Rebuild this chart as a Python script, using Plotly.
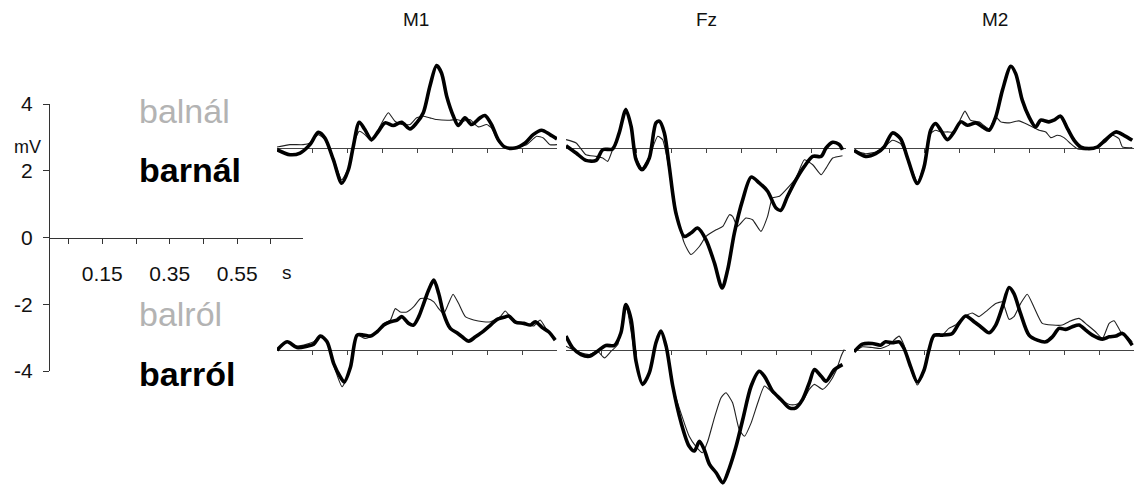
import plotly.graph_objects as go

W, H = 1134, 487

# ---- time axis labels of the scale bar (seconds) ----
scale_tick_s = [0.05, 0.15, 0.25, 0.35, 0.45, 0.55, 0.65]
scale_tick_text = ["", "0.15", "", "0.35", "", "0.55", ""]
scale_mv_ticks = [-4, -2, 0, 2, 4]
scale_mv_text = ["-4", "-2", "0", "2", "4"]

# baseline tick marks of each waveform panel (ms)
panel_tick_ms = [100, 200, 300, 400, 500, 600, 700]

electrodes = ["M1", "Fz", "M2"]

# ---------------- upper row: balnál (thin) vs barnál (thick) ----------------
m1_nal_t_bar = [0, 37, 66, 94, 118, 137, 161, 185, 204, 218, 235, 251, 270, 290, 309, 332, 356, 380, 399, 418,
                437, 456, 470, 485, 504, 518, 537, 556, 580, 594, 613, 632, 651, 680, 709, 732, 756, 780, 800]
m1_nal_bar = [-0.05, -0.2, -0.15, 0.1, 0.47, 0.3, -0.35, -1.05, -0.65, 0.05, 0.77, 0.55, 0.25, 0.5, 0.75, 0.67,
              0.77, 0.57, 0.75, 1.05, 1.85, 2.46, 2.24, 1.54, 0.95, 0.67, 0.9, 0.7, 0.9, 0.97, 0.7, 0.25, 0.03,
              0.0, 0.15, 0.4, 0.53, 0.4, 0.27]
m1_nal_t_bal = [0, 37, 75, 94, 118, 137, 161, 185, 204, 218, 235, 251, 270, 294, 318, 337, 356, 380, 399, 418,
                437, 456, 494, 513, 532, 551, 575, 599, 613, 632, 651, 680, 713, 742, 761, 780, 800]
m1_nal_bal = [0.03, 0.1, 0.1, 0.15, 0.4, 0.25, -0.3, -0.95, -0.6, 0.1, 0.5, 0.4, 0.2, 0.65, 1.05, 0.8, 0.7, 0.7,
              0.9, 0.95, 0.9, 0.85, 0.83, 0.85, 0.8, 0.85, 0.63, 0.7, 0.6, 0.2, 0.0, 0.0, 0.1, 0.35, 0.3, 0.1, 0.1]

fz_nal_t_bar = [0, 29, 57, 86, 105, 133, 152, 171, 186, 200, 217, 238, 257, 267, 281, 295, 314, 338, 357, 376,
                400, 424, 446, 462, 481, 505, 529, 552, 576, 600, 614, 633, 657, 681, 705, 729, 743, 762, 781, 790]
fz_nal_bar = [0.07, -0.15, -0.37, -0.37, -0.05, -0.03, 0.45, 1.14, 0.65, -0.35, -0.65, -0.3, 0.75, 0.8, 0.45,
              -0.55, -1.94, -2.64, -2.54, -2.39, -2.74, -3.43, -4.18, -3.63, -2.54, -1.54, -0.87, -1.04, -1.29,
              -1.79, -1.86, -1.44, -0.95, -0.55, -0.25, -0.25, 0.0, 0.17, 0.1, -0.05]
fz_nal_t_bal = [0, 29, 57, 86, 105, 119, 133, 152, 171, 186, 200, 217, 238, 262, 276, 295, 314, 338, 357, 381,
                400, 429, 448, 467, 476, 490, 514, 533, 557, 576, 590, 610, 638, 657, 681, 705, 729, 743, 762, 790]
fz_nal_bal = [0.25, 0.15, -0.2, -0.25, -0.3, -0.4, -0.05, 0.45, 1.19, 0.65, -0.25, -0.6, -0.25, 0.35, 0.25, -0.65,
              -1.84, -2.84, -3.18, -2.94, -2.64, -2.44, -2.34, -1.99, -2.04, -2.34, -2.09, -2.14, -2.49, -2.04,
              -1.49, -1.44, -1.14, -0.9, -0.35, -0.5, -0.8, -0.6, -0.3, -0.23]

m2_nal_t_bar = [0, 33, 62, 86, 110, 133, 152, 181, 200, 219, 233, 248, 267, 286, 305, 324, 348, 367, 386, 405,
                424, 448, 462, 481, 500, 519, 533, 557, 571, 590, 610, 629, 648, 671, 695, 719, 748, 771, 795]
m2_nal_bar = [-0.07, -0.25, -0.17, 0.03, 0.45, 0.28, -0.27, -1.06, -0.57, 0.53, 0.73, 0.53, 0.25, 0.48, 0.78,
              0.68, 0.75, 0.63, 0.53, 0.93, 1.72, 2.44, 2.22, 1.42, 0.93, 0.63, 0.83, 0.78, 0.83, 0.95, 0.58, 0.23,
              0.03, -0.02, 0.03, 0.25, 0.48, 0.38, 0.23]
m2_nal_t_bal = [0, 33, 62, 86, 110, 133, 152, 181, 200, 219, 233, 248, 267, 286, 305, 317, 333, 357, 386, 405,
                419, 443, 471, 500, 529, 548, 562, 581, 600, 619, 638, 662, 690, 719, 738, 757, 767, 795]
m2_nal_bal = [-0.07, -0.17, -0.12, 0.03, 0.23, 0.13, -0.27, -1.01, -0.52, 0.43, 0.53, 0.48, 0.48, 0.48, 0.88, 1.1,
              0.83, 0.78, 0.58, 0.93, 0.78, 0.75, 0.81, 0.68, 0.53, 0.48, 0.31, 0.38, 0.31, 0.13, -0.02, -0.05,
              0.03, 0.18, 0.38, 0.28, 0.03, 0.01]

# ---------------- lower row: balról (thin) vs barról (thick) ----------------
m1_rol_t_bar = [0, 29, 57, 86, 105, 124, 143, 162, 181, 192, 210, 229, 248, 267, 286, 305, 324, 343, 357, 376,
                390, 405, 419, 433, 448, 462, 476, 495, 514, 529, 548, 567, 590, 610, 629, 648, 662, 681, 705, 724,
                738, 757, 776, 795]
m1_rol_bar = [-0.02, 0.23, 0.06, 0.1, 0.16, 0.4, 0.23, -0.42, -0.82, -0.97, -0.52, 0.43, 0.43, 0.4, 0.53, 0.73,
              0.83, 0.88, 0.98, 0.78, 0.73, 0.98, 1.37, 1.77, 2.07, 1.67, 1.07, 0.63, 0.5, 0.38, 0.25, 0.38, 0.55,
              0.73, 0.9, 0.96, 1.0, 0.82, 0.78, 0.73, 0.83, 0.66, 0.53, 0.28]
m1_rol_t_bal = [0, 29, 57, 86, 105, 124, 143, 162, 186, 205, 229, 252, 276, 305, 324, 338, 352, 371, 390, 410,
                429, 448, 462, 476, 490, 503, 519, 538, 562, 590, 610, 638, 652, 667, 690, 714, 733, 752, 771, 795]
m1_rol_bal = [-0.02, 0.23, 0.1, 0.16, 0.23, 0.4, 0.2, -0.47, -1.11, -0.72, 0.43, 0.33, 0.43, 0.78, 0.88, 1.22,
              1.12, 1.12, 1.27, 1.52, 1.52, 1.42, 1.22, 1.07, 1.37, 1.65, 1.37, 0.98, 0.88, 0.83, 0.83, 0.98, 1.15,
              0.98, 0.8, 0.78, 0.7, 0.88, 0.58, 0.33]

fz_rol_t_bar = [0, 19, 43, 67, 90, 114, 138, 157, 171, 186, 200, 219, 238, 257, 271, 286, 305, 329, 352, 367,
                381, 395, 410, 429, 448, 467, 486, 505, 529, 552, 567, 590, 614, 638, 657, 676, 695, 710, 729, 743,
                767, 790]
fz_rol_bar = [0.4, 0.05, -0.15, -0.2, -0.05, 0.12, 0.12, 0.5, 1.34, 0.9, -0.35, -1.04, -0.7, 0.2, 0.55, 0.1,
              -1.09, -2.19, -2.89, -3.03, -2.74, -2.99, -3.43, -3.68, -3.98, -3.53, -2.89, -2.09, -1.09, -0.65,
              -0.8, -1.24, -1.49, -1.74, -1.74, -1.49, -1.0, -0.6, -0.8, -0.95, -0.6, -0.45]
fz_rol_t_bal = [0, 19, 43, 67, 90, 110, 129, 148, 171, 200, 219, 238, 257, 271, 286, 305, 333, 352, 371, 390,
                405, 424, 443, 457, 476, 495, 510, 529, 548, 567, 590, 614, 638, 657, 676, 695, 710, 733, 752, 771,
                786, 795]
fz_rol_bal = [0.1, 0.0, -0.1, -0.15, -0.05, -0.25, -0.05, 0.15, 1.34, -0.35, -1.04, -0.7, 0.2, 0.55, 0.1, -1.09,
              -2.04, -2.59, -2.89, -3.08, -2.74, -2.04, -1.44, -1.29, -1.59, -2.39, -2.59, -2.19, -1.59, -1.09,
              -1.29, -1.49, -1.64, -1.64, -1.54, -1.19, -1.04, -1.19, -1.0, -0.65, -0.2, 0.0]

m2_rol_t_bar = [0, 24, 52, 76, 90, 110, 129, 143, 162, 181, 200, 214, 229, 252, 281, 300, 319, 343, 362, 386,
                405, 424, 443, 457, 476, 500, 524, 548, 567, 586, 605, 624, 643, 662, 681, 710, 729, 748, 767, 795]
m2_rol_bar = [-0.07, 0.16, 0.18, 0.13, 0.23, 0.2, 0.23, 0.03, -0.52, -0.97, -0.62, -0.02, 0.43, 0.43, 0.48, 0.78,
              1.0, 0.83, 0.68, 0.5, 0.73, 1.27, 1.85, 1.67, 1.07, 0.43, 0.28, 0.23, 0.38, 0.63, 0.6, 0.68, 0.73,
              0.58, 0.43, 0.31, 0.38, 0.4, 0.48, 0.13]
m2_rol_t_bal = [0, 24, 52, 76, 100, 114, 129, 143, 162, 181, 200, 214, 229, 252, 271, 290, 314, 338, 357, 381,
                405, 424, 443, 457, 476, 495, 514, 538, 567, 595, 614, 643, 667, 690, 710, 729, 743, 762, 781, 795]
m2_rol_bal = [-0.07, 0.08, 0.06, 0.03, 0.13, 0.28, 0.4, 0.13, -0.57, -1.06, -0.62, -0.02, 0.38, 0.43, 0.63, 0.73,
              0.98, 1.09, 0.98, 1.17, 1.37, 1.42, 0.9, 0.98, 1.37, 1.65, 1.27, 0.78, 0.73, 0.73, 0.83, 0.93, 0.73,
              0.53, 0.33, 0.78, 0.86, 0.53, 0.38, 0.23]

# ---------------- geometry (pixels) ----------------
PX_PER_MV = 33.5
col_left_px = [277, 566, 854]
col_width_px = 280
row_base_px = [148, 349.5]
FONT = "Liberation Sans, Arial, sans-serif"
GRAY_LABEL = "#b3b3b3"


def px_x(px):
    return px / W


def px_y(py):
    return 1 - py / H


rows = [
    [(m1_nal_t_bal, m1_nal_bal, m1_nal_t_bar, m1_nal_bar),
     (fz_nal_t_bal, fz_nal_bal, fz_nal_t_bar, fz_nal_bar),
     (m2_nal_t_bal, m2_nal_bal, m2_nal_t_bar, m2_nal_bar)],
    [(m1_rol_t_bal, m1_rol_bal, m1_rol_t_bar, m1_rol_bar),
     (fz_rol_t_bal, fz_rol_bal, fz_rol_t_bar, fz_rol_bar),
     (m2_rol_t_bal, m2_rol_bal, m2_rol_t_bar, m2_rol_bar)],
]

fig = go.Figure()
layout = dict(
    width=W, height=H,
    margin=dict(l=0, r=0, t=0, b=0, pad=0, autoexpand=False),
    paper_bgcolor="white", plot_bgcolor="rgba(0,0,0,0)",
    showlegend=False,
    font=dict(family=FONT, color="black"),
)

# scale bar axes (mV / s)
fig.add_trace(go.Scatter(x=[0.3], y=[0], mode="markers", marker=dict(opacity=0),
                         xaxis="x", yaxis="y", hoverinfo="skip"))
layout["xaxis"] = dict(
    domain=[px_x(50), px_x(303)], range=[-0.005, 0.745], anchor="free", position=px_y(238),
    showline=True, linecolor="#333", linewidth=1, showgrid=False, zeroline=False,
    ticks="outside", ticklen=5, tickcolor="#333", tickwidth=1,
    tickvals=scale_tick_s, ticktext=scale_tick_text, automargin=False,
    tickfont=dict(size=21, family=FONT, color="#111"), ticklabelstandoff=12,
)
layout["yaxis"] = dict(
    domain=[px_y(371), px_y(104)], range=[-4, 4], anchor="x",
    showline=True, linecolor="#333", linewidth=1, showgrid=False, zeroline=False,
    ticks="outside", ticklen=6, tickcolor="#333", tickwidth=1, automargin=False,
    tickvals=scale_mv_ticks, ticktext=scale_mv_text,
    tickfont=dict(size=21, family=FONT, color="#111"), ticklabelstandoff=6,
)

idx = 2
for r, row in enumerate(rows):
    base = row_base_px[r]
    y_top = base / PX_PER_MV
    y_bot = -(H - base) / PX_PER_MV
    for c, (tb, vb, tr, vr) in enumerate(row):
        xa, ya = f"x{idx}", f"y{idx}"
        left = col_left_px[c]
        layout[f"xaxis{idx}"] = dict(
            domain=[px_x(left), px_x(left + col_width_px)], range=[0, 800],
            anchor="free", position=px_y(base), automargin=False,
            showline=True, linecolor="#444", linewidth=1, showgrid=False, zeroline=False,
            ticks="outside", ticklen=4, tickcolor="#444", tickwidth=1,
            tickvals=panel_tick_ms, showticklabels=False, layer="below traces",
        )
        layout[f"yaxis{idx}"] = dict(
            domain=[0, 1], range=[y_bot, y_top], anchor=xa, visible=False, automargin=False,
        )
        fig.add_trace(go.Scatter(
            x=tb, y=vb, xaxis=xa, yaxis=ya, mode="lines",
            line=dict(color="#222", width=1.1, shape="spline", smoothing=0.5),
            hoverinfo="skip"))
        fig.add_trace(go.Scatter(
            x=tr, y=vr, xaxis=xa, yaxis=ya, mode="lines",
            line=dict(color="black", width=3.6, shape="spline", smoothing=0.8),
            hoverinfo="skip"))
        idx += 1

annotations = []
title_x_px = [416, 706, 995]
for name, xp in zip(electrodes, title_x_px):
    annotations.append(dict(text=name, x=px_x(xp), y=px_y(20), xref="paper", yref="paper",
                            showarrow=False, xanchor="center", yanchor="middle",
                            font=dict(size=19, family=FONT, color="#111")))

condition_labels = [
    ("balnál", 111, GRAY_LABEL, False),
    ("barnál", 170, "black", True),
    ("balról", 314, GRAY_LABEL, False),
    ("barról", 374, "black", True),
]
for text, yp, col, bold in condition_labels:
    annotations.append(dict(text=f"<b>{text}</b>" if bold else text,
                            x=px_x(137), y=px_y(yp), xref="paper", yref="paper",
                            showarrow=False, xanchor="left", yanchor="middle",
                            font=dict(size=34, family=FONT, color=col)))

annotations.append(dict(text="mV", x=px_x(27), y=px_y(147), xref="paper", yref="paper",
                        showarrow=False, xanchor="center", yanchor="middle",
                        font=dict(size=18, family=FONT, color="#111")))
annotations.append(dict(text="s", x=px_x(287), y=px_y(272), xref="paper", yref="paper",
                        showarrow=False, xanchor="center", yanchor="middle",
                        font=dict(size=19, family=FONT, color="#111")))

layout["annotations"] = annotations
fig.update_layout(**layout)
fig.write_html("out.html")
